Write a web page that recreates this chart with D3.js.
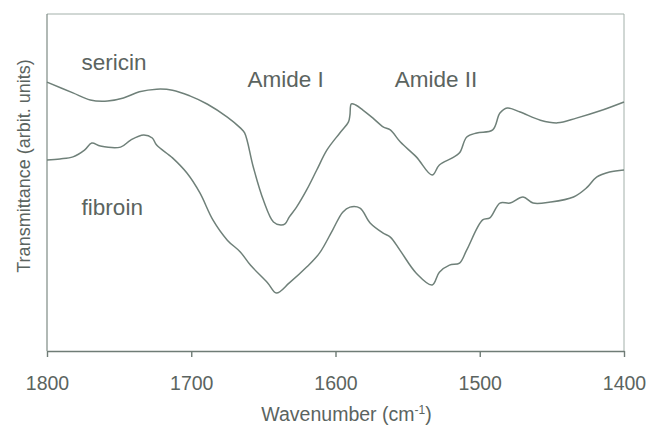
<!DOCTYPE html>
<html>
<head>
<meta charset="utf-8">
<script src="https://cdn.jsdelivr.net/npm/d3@7"></script>
<style>
  body { margin: 0; background: #fff; }
  svg text { font-family: "Liberation Sans", Arial, sans-serif; fill: #5b6460; }
</style>
</head>
<body>
<svg id="chart" width="647" height="431"></svg>
<script>
// wavenumber (cm-1) and transmittance (arbitrary units)
var sericinWn = [1800, 1782, 1770, 1758, 1747, 1736, 1724, 1713, 1701, 1689, 1675, 1666, 1663, 1657, 1650,
    1643, 1638, 1635, 1632, 1627, 1620, 1613, 1606, 1597, 1591, 1590, 1589, 1586, 1581, 1574, 1567, 1562,
    1555, 1544, 1533, 1528, 1519, 1514, 1509, 1502, 1491, 1486, 1481, 1472, 1458, 1446, 1433, 1417, 1400];
var sericinT = [79.8, 76.6, 74.5, 74.2, 75.1, 76.9, 77.7, 77.4, 75.7, 73.3, 69.4, 66.2, 64.7, 54.6, 44.8,
    38.3, 37.4, 37.7, 39.8, 42.7, 47.8, 53.7, 59.6, 64.7, 68.0, 70.0, 73.3, 73.0, 71.5, 69.1, 66.5, 65.6,
    62.0, 57.6, 52.2, 55.2, 57.3, 58.8, 63.5, 64.7, 65.6, 70.6, 72.1, 70.9, 68.5, 67.7, 69.1, 71.2, 73.9];

var fibroinWn = [1800, 1791, 1782, 1774, 1769, 1763, 1749, 1742, 1733, 1727, 1724, 1713, 1703, 1694, 1685,
    1675, 1666, 1659, 1647, 1641, 1632, 1620, 1611, 1602, 1595, 1590, 1583, 1576, 1567, 1562, 1555, 1544,
    1533, 1528, 1521, 1514, 1509, 1498, 1493, 1486, 1479, 1470, 1463, 1451, 1435, 1426, 1419, 1410, 1400];
var fibroinT = [56.7, 57.0, 57.6, 59.6, 61.7, 60.8, 60.5, 62.6, 64.1, 63.2, 61.1, 57.3, 52.8, 46.9, 38.9,
    32.9, 29.4, 25.5, 20.2, 17.2, 20.2, 24.9, 29.1, 35.9, 41.2, 42.7, 42.4, 38.0, 35.0, 33.8, 29.7, 23.1,
    19.6, 23.4, 25.5, 26.1, 30.0, 38.9, 39.5, 43.9, 43.9, 45.7, 43.9, 44.2, 45.7, 48.4, 51.6, 53.1, 53.7];

var xTicks = [1800, 1700, 1600, 1500, 1400];

var labels = [
    {text: "sericin", wn: 1776, t: 83.4},
    {text: "fibroin", wn: 1776, t: 40.4},
    {text: "Amide I", wn: 1661, t: 78.3},
    {text: "Amide II", wn: 1559, t: 78.3}
];

var margin = {top: 14, right: 23, bottom: 80, left: 47};
var width = 647 - margin.left - margin.right;
var height = 431 - margin.top - margin.bottom;

var svg = d3.select("#chart");
var g = svg.append("g").attr("transform", "translate(" + margin.left + "," + margin.top + ")");

var x = d3.scaleLinear().domain([1800, 1400]).range([0, width]);
var y = d3.scaleLinear().domain([0, 100]).range([height, 0]);

var lineColor = "#6f8079";

// frame (top and right)
g.append("path")
    .attr("d", "M0,0H" + width + "V" + height)
    .attr("fill", "none")
    .attr("stroke", "#a3b0aa")
    .attr("stroke-width", 1);

// left axis line
g.append("line")
    .attr("x1", 0).attr("x2", 0)
    .attr("y1", 0).attr("y2", height)
    .attr("stroke", "#7d8a84")
    .attr("stroke-width", 1.2);

// x axis
var xAxis = g.append("g")
    .attr("transform", "translate(0," + height + ")")
    .call(d3.axisBottom(x).tickValues(xTicks).tickFormat(d3.format("d"))
        .tickSize(6).tickSizeOuter(0).tickPadding(19));
xAxis.select(".domain").attr("stroke", "#6f7c76").attr("stroke-width", 1.6);
xAxis.selectAll(".tick line").attr("stroke", "#6f7c76").attr("stroke-width", 1.4);
xAxis.selectAll(".tick text")
    .style("font-family", "'Liberation Sans', Arial, sans-serif")
    .style("font-size", "19.5px")
    .attr("fill", "#5b6460");

// curves
var line = d3.line()
    .curve(d3.curveCatmullRom.alpha(0.5))
    .x(function(d){ return x(d[0]); })
    .y(function(d){ return y(d[1]); });

[[sericinWn, sericinT], [fibroinWn, fibroinT]].forEach(function(s){
    var pts = s[0].map(function(w, i){ return [w, s[1][i]]; });
    g.append("path")
        .datum(pts)
        .attr("d", line)
        .attr("fill", "none")
        .attr("stroke", lineColor)
        .attr("stroke-width", 1.5);
});

// annotations
g.selectAll(".lbl")
    .data(labels)
    .enter()
    .append("text")
    .attr("class", "lbl")
    .attr("x", function(d){ return x(d.wn); })
    .attr("y", function(d){ return y(d.t); })
    .style("font-size", "22.5px")
    .text(function(d){ return d.text; });

// x title with superscript
var xt = svg.append("text")
    .attr("x", margin.left + width / 2 + 11)
    .attr("y", 421)
    .attr("text-anchor", "middle")
    .style("font-size", "19.5px");
xt.append("tspan").text("Wavenumber (cm");
xt.append("tspan").attr("dy", -7).style("font-size", "12px").text("-1");
xt.append("tspan").attr("dy", 7).text(")");

// y title
svg.append("text")
    .attr("transform", "translate(30," + 166 + ") rotate(-90)")
    .attr("text-anchor", "middle")
    .style("font-size", "18px")
    .text("Transmittance (arbit. units)");
</script>
</body>
</html>
